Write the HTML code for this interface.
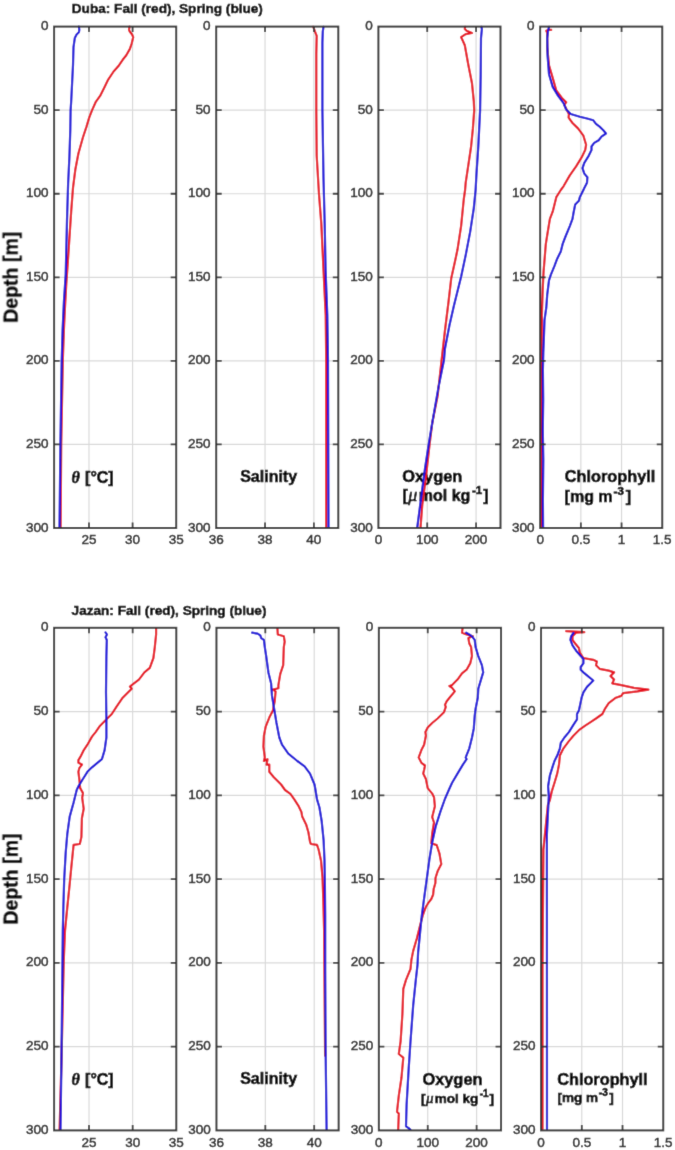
<!DOCTYPE html><html><head><meta charset="utf-8"><style>html,body{margin:0;padding:0;background:#fff;width:675px;height:1150px;overflow:hidden}svg{display:block}text{font-family:"Liberation Sans",sans-serif}</style></head><body>
<svg width="675" height="1150" viewBox="0 0 675 1150">
<defs><filter id="bl" x="0" y="0" width="675" height="1150" filterUnits="userSpaceOnUse"><feConvolveMatrix order="3" kernelMatrix="0.0100 0.0800 0.0100 0.0800 0.6400 0.0800 0.0100 0.0800 0.0100" divisor="1" edgeMode="none"/></filter></defs>
<g filter="url(#bl)">
<rect width="675" height="1150" fill="#fff"/>
<path d="M88.99 26.60V528.00M132.59 26.60V528.00M54.10 110.17H176.20M54.10 193.73H176.20M54.10 277.30H176.20M54.10 360.87H176.20M54.10 444.43H176.20" stroke="rgba(0,0,0,0.15)" stroke-width="1.2" fill="none"/>
<path d="M265.04 26.60V528.00M313.88 26.60V528.00M216.20 110.17H338.30M216.20 193.73H338.30M216.20 277.30H338.30M216.20 360.87H338.30M216.20 444.43H338.30" stroke="rgba(0,0,0,0.15)" stroke-width="1.2" fill="none"/>
<path d="M427.24 26.60V528.00M476.08 26.60V528.00M378.40 110.17H500.50M378.40 193.73H500.50M378.40 277.30H500.50M378.40 360.87H500.50M378.40 444.43H500.50" stroke="rgba(0,0,0,0.15)" stroke-width="1.2" fill="none"/>
<path d="M580.85 26.60V528.00M621.55 26.60V528.00M540.15 110.17H662.25M540.15 193.73H662.25M540.15 277.30H662.25M540.15 360.87H662.25M540.15 444.43H662.25" stroke="rgba(0,0,0,0.15)" stroke-width="1.2" fill="none"/>
<path d="M89.01 627.80V1130.40M132.66 627.80V1130.40M54.10 711.57H176.30M54.10 795.33H176.30M54.10 879.10H176.30M54.10 962.87H176.30M54.10 1046.63H176.30" stroke="rgba(0,0,0,0.15)" stroke-width="1.2" fill="none"/>
<path d="M265.33 627.80V1130.40M314.21 627.80V1130.40M216.45 711.57H338.65M216.45 795.33H338.65M216.45 879.10H338.65M216.45 962.87H338.65M216.45 1046.63H338.65" stroke="rgba(0,0,0,0.15)" stroke-width="1.2" fill="none"/>
<path d="M427.73 627.80V1130.40M476.61 627.80V1130.40M378.85 711.57H501.05M378.85 795.33H501.05M378.85 879.10H501.05M378.85 962.87H501.05M378.85 1046.63H501.05" stroke="rgba(0,0,0,0.15)" stroke-width="1.2" fill="none"/>
<path d="M581.78 627.80V1130.40M622.52 627.80V1130.40M541.05 711.57H663.25M541.05 795.33H663.25M541.05 879.10H663.25M541.05 962.87H663.25M541.05 1046.63H663.25" stroke="rgba(0,0,0,0.15)" stroke-width="1.2" fill="none"/>
<text x="71.4" y="482.9" font-size="16" font-weight="bold" text-anchor="start" fill="#000" stroke="#000" stroke-width="0.6" ><tspan font-family="Liberation Serif" font-style="italic" font-weight="bold">θ</tspan><tspan dx="0.9"> [°C]</tspan></text>
<text x="240.2" y="481.9" font-size="16" font-weight="bold" text-anchor="start" fill="#000" stroke="#000" stroke-width="0.6" >Salinity</text>
<text x="71.4" y="1085.1999999999998" font-size="16" font-weight="bold" text-anchor="start" fill="#000" stroke="#000" stroke-width="0.6" ><tspan font-family="Liberation Serif" font-style="italic" font-weight="bold">θ</tspan><tspan dx="0.9"> [°C]</tspan></text>
<text x="240.2" y="1084.3" font-size="16" font-weight="bold" text-anchor="start" fill="#000" stroke="#000" stroke-width="0.6" >Salinity</text>
<text x="402.2" y="481.9" font-size="16.4" font-weight="bold" text-anchor="start" fill="#000" stroke="#000" stroke-width="0.6" >Oxygen</text>
<text x="402.4" y="500.9" font-size="16" font-weight="bold" text-anchor="start" fill="#000" stroke="#000" stroke-width="0.6" >[<tspan font-family="Liberation Serif" font-style="italic" font-weight="normal" font-size="18" dx="0.6">μ</tspan><tspan dx="1.4">mol kg</tspan><tspan dx="1.6" dy="-7" font-size="11.5">-1</tspan><tspan dx="1.2" dy="7">]</tspan></text>
<text x="564.8" y="481.9" font-size="16.3" font-weight="bold" text-anchor="start" fill="#000" stroke="#000" stroke-width="0.6" >Chlorophyll</text>
<text x="564.6" y="501.6" font-size="16" font-weight="bold" text-anchor="start" fill="#000" stroke="#000" stroke-width="0.6" >[mg m<tspan dx="1.0" dy="-7" font-size="11.5">-3</tspan><tspan dx="1.8" dy="7">]</tspan></text>
<text x="422.4" y="1084.8" font-size="16.4" font-weight="bold" text-anchor="start" fill="#000" stroke="#000" stroke-width="0.6" >Oxygen</text>
<text x="421.0" y="1102.9" font-size="13.5" font-weight="bold" text-anchor="start" fill="#000" stroke="#000" stroke-width="0.6" >[<tspan font-family="Liberation Serif" font-style="italic" font-weight="normal" font-size="15" dx="0.5">μ</tspan><tspan dx="1.2">mol kg</tspan><tspan dx="1.4" dy="-6" font-size="10">-1</tspan><tspan dx="1.0" dy="6">]</tspan></text>
<text x="557.2" y="1084.9" font-size="16.3" font-weight="bold" text-anchor="start" fill="#000" stroke="#000" stroke-width="0.6" >Chlorophyll</text>
<text x="557.4" y="1102.4" font-size="13.5" font-weight="bold" text-anchor="start" fill="#000" stroke="#000" stroke-width="0.6" >[mg m<tspan dx="0.9" dy="-6" font-size="10">-3</tspan><tspan dx="1.5" dy="6">]</tspan></text>
<path d="M129.5 26.6 L129.0 29.9 L129.9 31.7 L132.1 34.5 L133.2 37.2 L131.7 43.5 L129.9 48.9 L126.3 55.2 L122.7 59.8 L119.1 65.2 L113.6 71.5 L108.2 79.6 L104.6 86.9 L100.1 95.9 L95.6 102.2 L92.0 110.4 L89.2 117.6 L86.5 126.6 L82.9 137.5 L78.4 153.5 L75.3 169.8 L73.0 187.8 L71.2 211.3 L69.4 238.4 L67.6 265.5 L66.3 283.6 L64.8 310.7 L63.9 330.0 L62.8 361.0 L61.2 445.0 L60.6 528.0" stroke="#e60a1c" stroke-width="2.2" fill="none" stroke-linejoin="round" stroke-linecap="round"/>
<path d="M78.9 26.6 L79.3 29.9 L78.9 32.3 L76.6 34.5 L74.8 38.1 L73.5 47.1 L73.0 65.2 L72.1 83.3 L71.2 101.3 L70.6 110.4 L70.3 130.0 L69.4 157.1 L68.1 184.2 L67.0 220.4 L65.7 274.6 L63.9 301.7 L62.6 330.0 L61.7 361.0 L60.4 445.0 L59.5 528.0" stroke="#1208d8" stroke-width="2.2" fill="none" stroke-linejoin="round" stroke-linecap="round"/>
<path d="M313.3 26.8 L314.9 31.3 L316.7 35.8 L316.3 54.0 L316.3 110.5 L316.7 155.8 L319.0 194.2 L321.3 223.7 L323.5 270.0 L325.7 315.0 L326.2 360.5 L326.2 528.0" stroke="#e60a1c" stroke-width="2.2" fill="none" stroke-linejoin="round" stroke-linecap="round"/>
<path d="M323.5 26.8 L322.8 31.3 L322.4 42.6 L322.4 110.5 L323.5 178.4 L324.7 223.7 L325.6 270.0 L327.3 315.0 L328.0 360.5 L328.5 528.0" stroke="#1208d8" stroke-width="2.2" fill="none" stroke-linejoin="round" stroke-linecap="round"/>
<path d="M465.1 26.9 L464.8 29.0 L466.6 30.8 L472.0 33.0 L465.7 34.1 L461.1 37.2 L462.0 39.0 L464.8 45.3 L468.4 65.2 L472.0 83.3 L473.8 101.3 L474.2 110.4 L472.9 128.4 L471.1 146.5 L468.4 164.6 L465.7 182.7 L465.1 190.0 L463.8 199.0 L461.1 226.1 L457.5 249.6 L454.8 262.3 L451.2 278.6 L448.5 302.0 L444.9 331.0 L441.6 360.0 L437.6 396.1 L432.2 423.3 L429.5 445.0 L425.9 477.5 L422.3 504.6 L420.5 528.0" stroke="#e60a1c" stroke-width="2.2" fill="none" stroke-linejoin="round" stroke-linecap="round"/>
<path d="M481.4 26.9 L481.9 29.0 L481.0 38.1 L480.7 74.2 L480.1 110.4 L478.3 146.5 L476.5 173.6 L475.6 190.0 L473.8 208.1 L470.2 231.6 L465.7 255.1 L461.1 276.8 L453.9 305.7 L449.4 325.6 L444.9 349.0 L444.0 360.0 L438.5 387.1 L432.2 423.3 L428.6 445.0 L425.0 468.4 L421.4 495.5 L417.2 528.0" stroke="#1208d8" stroke-width="2.2" fill="none" stroke-linejoin="round" stroke-linecap="round"/>
<path d="M551.2 29.9 L548.1 29.9 L546.3 30.8 L547.2 32.7 L547.2 47.1 L549.0 65.2 L552.7 77.8 L556.3 90.5 L561.7 97.7 L566.2 102.2 L564.4 104.9 L567.1 110.4 L568.9 114.0 L568.6 117.6 L572.5 123.0 L578.0 128.4 L583.4 135.7 L586.1 144.7 L585.2 150.1 L581.6 157.4 L576.1 166.4 L569.8 175.4 L563.5 186.3 L560.8 190.0 L556.3 197.2 L552.7 211.7 L549.9 218.9 L547.2 235.2 L545.8 244.2 L543.6 271.3 L542.7 289.4 L541.8 316.5 L541.4 370.0 L541.2 528.0" stroke="#e60a1c" stroke-width="2.2" fill="none" stroke-linejoin="round" stroke-linecap="round"/>
<path d="M549.0 26.9 L548.1 30.8 L547.2 38.1 L547.6 56.1 L549.0 74.2 L552.7 86.9 L558.1 95.9 L563.5 103.1 L566.2 109.5 L570.7 114.0 L579.8 116.7 L587.0 118.5 L593.3 120.3 L596.0 123.9 L599.6 126.6 L603.3 130.2 L606.0 133.5 L601.5 136.6 L598.7 140.2 L594.2 142.9 L591.5 146.5 L591.5 150.1 L588.8 155.6 L584.3 162.8 L582.5 168.2 L584.3 173.6 L587.4 177.2 L587.0 182.7 L584.3 188.1 L583.4 190.0 L579.8 197.2 L578.9 200.8 L575.2 204.5 L573.4 213.5 L572.5 218.9 L569.8 226.1 L565.3 237.0 L562.6 244.2 L560.8 251.4 L557.2 258.7 L554.5 265.9 L550.8 274.9 L549.0 280.4 L547.2 294.8 L546.3 307.5 L544.5 320.1 L544.0 334.6 L543.3 352.7 L542.9 370.0 L543.2 400.0 L542.8 430.0 L543.3 460.0 L542.9 500.0 L543.1 528.0" stroke="#1208d8" stroke-width="2.2" fill="none" stroke-linejoin="round" stroke-linecap="round"/>
<path d="M156.1 628.1 L156.1 634.5 L154.8 647.1 L153.4 658.0 L149.8 667.9 L144.4 672.4 L138.9 679.6 L131.7 685.1 L129.9 686.5 L131.7 688.7 L122.7 697.7 L116.4 706.8 L111.8 714.0 L105.5 720.3 L100.1 725.7 L95.6 732.1 L92.0 736.6 L87.4 744.7 L83.8 750.1 L81.1 755.6 L78.4 760.1 L78.4 762.8 L82.0 764.6 L79.3 768.2 L78.4 771.8 L79.3 779.0 L80.2 788.1 L83.0 793.1 L82.2 797.8 L83.7 808.8 L81.9 818.2 L81.4 837.0 L79.8 844.0 L73.6 844.8 L72.8 852.6 L71.2 868.3 L69.7 883.9 L67.3 907.4 L65.0 930.9 L63.7 962.2 L61.8 1046.9 L59.6 1129.5" stroke="#e60a1c" stroke-width="2.2" fill="none" stroke-linejoin="round" stroke-linecap="round"/>
<path d="M105.5 632.3 L107.0 634.5 L105.5 637.2 L106.8 639.9 L106.4 656.1 L106.0 692.3 L106.4 719.4 L106.4 737.5 L104.6 750.1 L101.9 759.2 L97.4 762.8 L92.0 767.3 L87.4 771.8 L82.9 779.0 L78.4 786.3 L76.7 790.0 L73.6 802.5 L69.7 816.6 L67.3 833.8 L65.7 852.6 L64.2 879.2 L63.4 905.9 L62.8 930.9 L62.4 970.0 L61.6 1046.9 L60.5 1129.5" stroke="#1208d8" stroke-width="2.2" fill="none" stroke-linejoin="round" stroke-linecap="round"/>
<path d="M277.4 628.1 L277.8 634.5 L283.8 636.3 L284.7 641.7 L283.8 647.1 L283.2 665.2 L280.2 674.2 L278.4 685.1 L278.4 688.3 L272.9 689.6 L275.6 691.4 L274.7 701.3 L272.9 710.4 L269.3 717.6 L265.7 726.6 L263.9 735.7 L263.4 746.5 L264.8 757.4 L263.9 761.0 L267.5 759.2 L266.6 764.6 L269.3 764.6 L269.3 771.8 L273.8 777.2 L281.1 784.5 L285.0 790.0 L290.4 793.9 L294.3 799.4 L298.3 805.6 L301.4 811.9 L302.2 816.6 L306.1 824.4 L308.4 832.3 L310.0 841.6 L310.8 844.0 L317.0 844.8 L318.6 849.5 L321.0 860.4 L322.5 877.6 L323.3 899.5 L324.1 930.8 L324.4 970.0 L325.1 1055.7" stroke="#e60a1c" stroke-width="2.2" fill="none" stroke-linejoin="round" stroke-linecap="round"/>
<path d="M252.1 632.7 L257.6 633.6 L260.3 635.4 L261.2 638.1 L263.9 639.9 L264.8 647.1 L266.2 656.1 L268.4 672.4 L271.1 683.3 L272.0 695.9 L273.8 706.8 L276.5 723.0 L279.3 737.5 L282.0 744.7 L288.3 753.7 L297.3 761.0 L304.6 766.4 L310.0 773.6 L314.5 784.5 L315.5 790.0 L317.0 799.4 L319.4 807.2 L321.7 821.3 L323.6 840.1 L324.5 860.4 L324.9 883.9 L325.2 915.2 L325.2 970.0 L325.6 1049.7 L326.6 1130.0" stroke="#1208d8" stroke-width="2.2" fill="none" stroke-linejoin="round" stroke-linecap="round"/>
<path d="M462.6 628.1 L462.0 632.7 L466.6 634.5 L472.9 636.3 L468.4 638.1 L469.3 643.5 L471.1 647.1 L472.0 656.1 L470.2 663.4 L466.6 669.7 L462.0 673.3 L457.5 679.6 L452.1 685.1 L449.4 686.0 L452.1 687.8 L454.8 691.4 L450.3 696.8 L446.7 701.3 L444.9 704.9 L445.8 706.8 L444.0 712.2 L437.6 718.5 L432.2 723.0 L427.7 727.5 L425.4 732.1 L425.9 735.7 L424.1 744.7 L421.4 750.1 L418.7 757.4 L421.4 762.8 L425.0 765.5 L424.1 770.0 L423.2 773.6 L425.9 779.0 L427.7 788.1 L432.2 793.6 L434.0 797.2 L434.9 806.3 L432.2 817.1 L434.0 822.5 L432.2 833.4 L431.3 843.3 L436.7 845.1 L439.4 853.3 L441.3 864.1 L437.6 871.3 L435.5 878.0 L435.4 883.0 L433.7 888.9 L433.1 894.8 L431.3 899.0 L427.8 903.7 L426.0 906.7 L424.2 911.4 L422.7 915.6 L420.5 923.7 L416.9 938.2 L413.2 950.9 L411.4 959.9 L410.5 969.0 L406.0 979.9 L403.3 988.9 L402.4 1014.2 L400.6 1041.3 L398.8 1054.0 L403.3 1057.6 L401.5 1077.5 L398.8 1095.6 L397.0 1111.8 L398.8 1113.6 L398.2 1129.9" stroke="#e60a1c" stroke-width="2.2" fill="none" stroke-linejoin="round" stroke-linecap="round"/>
<path d="M466.2 632.7 L469.3 634.5 L472.0 636.3 L474.7 639.9 L475.6 647.1 L478.3 656.1 L481.9 665.2 L483.2 672.4 L481.0 679.6 L478.3 688.7 L477.8 697.7 L475.6 708.6 L474.7 715.8 L473.8 728.4 L472.0 737.5 L469.3 748.3 L465.7 757.4 L466.6 759.2 L462.9 764.6 L457.5 773.6 L452.1 782.7 L448.8 790.0 L444.9 799.0 L440.4 811.7 L435.8 826.1 L432.2 842.4 L429.5 858.7 L426.8 878.6 L424.1 898.4 L421.7 916.5 L419.9 934.6 L418.1 952.7 L417.5 965.0 L416.0 978.1 L413.2 1005.2 L410.5 1041.3 L408.7 1068.4 L406.6 1104.6 L406.0 1126.3 L408.7 1128.1 L410.5 1129.9" stroke="#1208d8" stroke-width="2.2" fill="none" stroke-linejoin="round" stroke-linecap="round"/>
<path d="M566.2 631.2 L584.3 632.2 L576.1 632.7 L572.5 636.3 L572.5 639.9 L575.2 643.5 L578.9 648.0 L579.8 652.5 L583.4 658.0 L593.3 659.8 L596.9 661.6 L596.0 665.2 L599.6 668.8 L608.7 670.6 L614.1 672.4 L610.5 676.0 L614.1 679.6 L612.3 683.3 L621.3 685.1 L634.0 687.8 L648.4 689.6 L637.6 691.4 L623.1 693.2 L621.3 695.9 L615.9 697.7 L608.7 703.1 L605.1 708.6 L602.4 714.0 L596.0 718.5 L590.6 722.1 L585.2 725.7 L578.9 730.2 L573.4 735.7 L568.9 741.1 L563.5 748.3 L559.9 755.6 L559.0 764.6 L557.2 773.6 L554.5 782.7 L551.7 791.7 L549.9 800.0 L547.9 804.8 L543.4 849.3 L542.5 967.8 L542.5 1129.0" stroke="#e60a1c" stroke-width="2.2" fill="none" stroke-linejoin="round" stroke-linecap="round"/>
<path d="M573.4 633.0 L571.1 636.3 L570.4 639.9 L572.5 645.3 L576.1 650.7 L580.7 656.1 L583.4 658.9 L583.4 663.4 L580.7 667.0 L580.7 669.7 L583.4 672.4 L588.8 676.9 L593.3 680.5 L590.6 683.3 L587.0 686.9 L583.4 692.3 L581.6 697.7 L580.1 704.9 L578.9 710.4 L577.0 714.0 L577.0 719.4 L573.4 724.8 L568.9 732.1 L564.4 737.5 L560.8 742.9 L559.9 748.3 L557.2 755.6 L554.5 761.0 L552.7 766.4 L549.9 775.4 L548.1 786.3 L548.8 796.0 L546.9 834.4 L547.0 1129.0" stroke="#1208d8" stroke-width="2.2" fill="none" stroke-linejoin="round" stroke-linecap="round"/>
<rect x="54.10" y="26.60" width="122.10" height="501.40" fill="none" stroke="#363636" stroke-width="2"/>
<path d="M88.99 528.00v-5.5M88.99 26.60v5.5M132.59 528.00v-5.5M132.59 26.60v5.5M54.10 110.17h5.5M176.20 110.17h-5.5M54.10 193.73h5.5M176.20 193.73h-5.5M54.10 277.30h5.5M176.20 277.30h-5.5M54.10 360.87h5.5M176.20 360.87h-5.5M54.10 444.43h5.5M176.20 444.43h-5.5" stroke="#363636" stroke-width="1.8" fill="none"/>
<text x="88.99" y="544.20" font-size="13.5" text-anchor="middle" fill="#222" stroke="#222" stroke-width="0.45">25</text>
<text x="132.59" y="544.20" font-size="13.5" text-anchor="middle" fill="#222" stroke="#222" stroke-width="0.45">30</text>
<text x="176.20" y="544.20" font-size="13.5" text-anchor="middle" fill="#222" stroke="#222" stroke-width="0.45">35</text>
<text x="48.50" y="30.20" font-size="13.5" text-anchor="end" fill="#222" stroke="#222" stroke-width="0.45">0</text>
<text x="48.50" y="113.77" font-size="13.5" text-anchor="end" fill="#222" stroke="#222" stroke-width="0.45">50</text>
<text x="48.50" y="197.33" font-size="13.5" text-anchor="end" fill="#222" stroke="#222" stroke-width="0.45">100</text>
<text x="48.50" y="280.90" font-size="13.5" text-anchor="end" fill="#222" stroke="#222" stroke-width="0.45">150</text>
<text x="48.50" y="364.47" font-size="13.5" text-anchor="end" fill="#222" stroke="#222" stroke-width="0.45">200</text>
<text x="48.50" y="448.03" font-size="13.5" text-anchor="end" fill="#222" stroke="#222" stroke-width="0.45">250</text>
<text x="48.50" y="531.60" font-size="13.5" text-anchor="end" fill="#222" stroke="#222" stroke-width="0.45">300</text>
<rect x="216.20" y="26.60" width="122.10" height="501.40" fill="none" stroke="#363636" stroke-width="2"/>
<path d="M265.04 528.00v-5.5M265.04 26.60v5.5M313.88 528.00v-5.5M313.88 26.60v5.5M216.20 110.17h5.5M338.30 110.17h-5.5M216.20 193.73h5.5M338.30 193.73h-5.5M216.20 277.30h5.5M338.30 277.30h-5.5M216.20 360.87h5.5M338.30 360.87h-5.5M216.20 444.43h5.5M338.30 444.43h-5.5" stroke="#363636" stroke-width="1.8" fill="none"/>
<text x="216.20" y="544.20" font-size="13.5" text-anchor="middle" fill="#222" stroke="#222" stroke-width="0.45">36</text>
<text x="265.04" y="544.20" font-size="13.5" text-anchor="middle" fill="#222" stroke="#222" stroke-width="0.45">38</text>
<text x="313.88" y="544.20" font-size="13.5" text-anchor="middle" fill="#222" stroke="#222" stroke-width="0.45">40</text>
<text x="210.60" y="30.20" font-size="13.5" text-anchor="end" fill="#222" stroke="#222" stroke-width="0.45">0</text>
<text x="210.60" y="113.77" font-size="13.5" text-anchor="end" fill="#222" stroke="#222" stroke-width="0.45">50</text>
<text x="210.60" y="197.33" font-size="13.5" text-anchor="end" fill="#222" stroke="#222" stroke-width="0.45">100</text>
<text x="210.60" y="280.90" font-size="13.5" text-anchor="end" fill="#222" stroke="#222" stroke-width="0.45">150</text>
<text x="210.60" y="364.47" font-size="13.5" text-anchor="end" fill="#222" stroke="#222" stroke-width="0.45">200</text>
<text x="210.60" y="448.03" font-size="13.5" text-anchor="end" fill="#222" stroke="#222" stroke-width="0.45">250</text>
<text x="210.60" y="531.60" font-size="13.5" text-anchor="end" fill="#222" stroke="#222" stroke-width="0.45">300</text>
<rect x="378.40" y="26.60" width="122.10" height="501.40" fill="none" stroke="#363636" stroke-width="2"/>
<path d="M427.24 528.00v-5.5M427.24 26.60v5.5M476.08 528.00v-5.5M476.08 26.60v5.5M378.40 110.17h5.5M500.50 110.17h-5.5M378.40 193.73h5.5M500.50 193.73h-5.5M378.40 277.30h5.5M500.50 277.30h-5.5M378.40 360.87h5.5M500.50 360.87h-5.5M378.40 444.43h5.5M500.50 444.43h-5.5" stroke="#363636" stroke-width="1.8" fill="none"/>
<text x="378.40" y="544.20" font-size="13.5" text-anchor="middle" fill="#222" stroke="#222" stroke-width="0.45">0</text>
<text x="427.24" y="544.20" font-size="13.5" text-anchor="middle" fill="#222" stroke="#222" stroke-width="0.45">100</text>
<text x="476.08" y="544.20" font-size="13.5" text-anchor="middle" fill="#222" stroke="#222" stroke-width="0.45">200</text>
<text x="372.80" y="30.20" font-size="13.5" text-anchor="end" fill="#222" stroke="#222" stroke-width="0.45">0</text>
<text x="372.80" y="113.77" font-size="13.5" text-anchor="end" fill="#222" stroke="#222" stroke-width="0.45">50</text>
<text x="372.80" y="197.33" font-size="13.5" text-anchor="end" fill="#222" stroke="#222" stroke-width="0.45">100</text>
<text x="372.80" y="280.90" font-size="13.5" text-anchor="end" fill="#222" stroke="#222" stroke-width="0.45">150</text>
<text x="372.80" y="364.47" font-size="13.5" text-anchor="end" fill="#222" stroke="#222" stroke-width="0.45">200</text>
<text x="372.80" y="448.03" font-size="13.5" text-anchor="end" fill="#222" stroke="#222" stroke-width="0.45">250</text>
<text x="372.80" y="531.60" font-size="13.5" text-anchor="end" fill="#222" stroke="#222" stroke-width="0.45">300</text>
<rect x="540.15" y="26.60" width="122.10" height="501.40" fill="none" stroke="#363636" stroke-width="2"/>
<path d="M580.85 528.00v-5.5M580.85 26.60v5.5M621.55 528.00v-5.5M621.55 26.60v5.5M540.15 110.17h5.5M662.25 110.17h-5.5M540.15 193.73h5.5M662.25 193.73h-5.5M540.15 277.30h5.5M662.25 277.30h-5.5M540.15 360.87h5.5M662.25 360.87h-5.5M540.15 444.43h5.5M662.25 444.43h-5.5" stroke="#363636" stroke-width="1.8" fill="none"/>
<text x="540.15" y="544.20" font-size="13.5" text-anchor="middle" fill="#222" stroke="#222" stroke-width="0.45">0</text>
<text x="580.85" y="544.20" font-size="13.5" text-anchor="middle" fill="#222" stroke="#222" stroke-width="0.45">0.5</text>
<text x="621.55" y="544.20" font-size="13.5" text-anchor="middle" fill="#222" stroke="#222" stroke-width="0.45">1</text>
<text x="662.25" y="544.20" font-size="13.5" text-anchor="middle" fill="#222" stroke="#222" stroke-width="0.45">1.5</text>
<text x="534.55" y="30.20" font-size="13.5" text-anchor="end" fill="#222" stroke="#222" stroke-width="0.45">0</text>
<text x="534.55" y="113.77" font-size="13.5" text-anchor="end" fill="#222" stroke="#222" stroke-width="0.45">50</text>
<text x="534.55" y="197.33" font-size="13.5" text-anchor="end" fill="#222" stroke="#222" stroke-width="0.45">100</text>
<text x="534.55" y="280.90" font-size="13.5" text-anchor="end" fill="#222" stroke="#222" stroke-width="0.45">150</text>
<text x="534.55" y="364.47" font-size="13.5" text-anchor="end" fill="#222" stroke="#222" stroke-width="0.45">200</text>
<text x="534.55" y="448.03" font-size="13.5" text-anchor="end" fill="#222" stroke="#222" stroke-width="0.45">250</text>
<text x="534.55" y="531.60" font-size="13.5" text-anchor="end" fill="#222" stroke="#222" stroke-width="0.45">300</text>
<text x="0" y="0" font-size="19.5" font-weight="bold" text-anchor="middle" fill="#000" stroke="#000" stroke-width="0.4" transform="translate(17.6 277.30) rotate(-90)">Depth [m]</text>
<text x="71.8" y="13.2" font-size="13.6" font-weight="bold" fill="#000" stroke="#000" stroke-width="0.5">Duba: Fall (red), Spring (blue)</text>
<rect x="54.10" y="627.80" width="122.20" height="502.60" fill="none" stroke="#363636" stroke-width="2"/>
<path d="M89.01 1130.40v-5.5M89.01 627.80v5.5M132.66 1130.40v-5.5M132.66 627.80v5.5M54.10 711.57h5.5M176.30 711.57h-5.5M54.10 795.33h5.5M176.30 795.33h-5.5M54.10 879.10h5.5M176.30 879.10h-5.5M54.10 962.87h5.5M176.30 962.87h-5.5M54.10 1046.63h5.5M176.30 1046.63h-5.5" stroke="#363636" stroke-width="1.8" fill="none"/>
<text x="89.01" y="1146.60" font-size="13.5" text-anchor="middle" fill="#222" stroke="#222" stroke-width="0.45">25</text>
<text x="132.66" y="1146.60" font-size="13.5" text-anchor="middle" fill="#222" stroke="#222" stroke-width="0.45">30</text>
<text x="176.30" y="1146.60" font-size="13.5" text-anchor="middle" fill="#222" stroke="#222" stroke-width="0.45">35</text>
<text x="48.50" y="631.40" font-size="13.5" text-anchor="end" fill="#222" stroke="#222" stroke-width="0.45">0</text>
<text x="48.50" y="715.17" font-size="13.5" text-anchor="end" fill="#222" stroke="#222" stroke-width="0.45">50</text>
<text x="48.50" y="798.93" font-size="13.5" text-anchor="end" fill="#222" stroke="#222" stroke-width="0.45">100</text>
<text x="48.50" y="882.70" font-size="13.5" text-anchor="end" fill="#222" stroke="#222" stroke-width="0.45">150</text>
<text x="48.50" y="966.47" font-size="13.5" text-anchor="end" fill="#222" stroke="#222" stroke-width="0.45">200</text>
<text x="48.50" y="1050.23" font-size="13.5" text-anchor="end" fill="#222" stroke="#222" stroke-width="0.45">250</text>
<text x="48.50" y="1134.00" font-size="13.5" text-anchor="end" fill="#222" stroke="#222" stroke-width="0.45">300</text>
<rect x="216.45" y="627.80" width="122.20" height="502.60" fill="none" stroke="#363636" stroke-width="2"/>
<path d="M265.33 1130.40v-5.5M265.33 627.80v5.5M314.21 1130.40v-5.5M314.21 627.80v5.5M216.45 711.57h5.5M338.65 711.57h-5.5M216.45 795.33h5.5M338.65 795.33h-5.5M216.45 879.10h5.5M338.65 879.10h-5.5M216.45 962.87h5.5M338.65 962.87h-5.5M216.45 1046.63h5.5M338.65 1046.63h-5.5" stroke="#363636" stroke-width="1.8" fill="none"/>
<text x="216.45" y="1146.60" font-size="13.5" text-anchor="middle" fill="#222" stroke="#222" stroke-width="0.45">36</text>
<text x="265.33" y="1146.60" font-size="13.5" text-anchor="middle" fill="#222" stroke="#222" stroke-width="0.45">38</text>
<text x="314.21" y="1146.60" font-size="13.5" text-anchor="middle" fill="#222" stroke="#222" stroke-width="0.45">40</text>
<text x="210.85" y="631.40" font-size="13.5" text-anchor="end" fill="#222" stroke="#222" stroke-width="0.45">0</text>
<text x="210.85" y="715.17" font-size="13.5" text-anchor="end" fill="#222" stroke="#222" stroke-width="0.45">50</text>
<text x="210.85" y="798.93" font-size="13.5" text-anchor="end" fill="#222" stroke="#222" stroke-width="0.45">100</text>
<text x="210.85" y="882.70" font-size="13.5" text-anchor="end" fill="#222" stroke="#222" stroke-width="0.45">150</text>
<text x="210.85" y="966.47" font-size="13.5" text-anchor="end" fill="#222" stroke="#222" stroke-width="0.45">200</text>
<text x="210.85" y="1050.23" font-size="13.5" text-anchor="end" fill="#222" stroke="#222" stroke-width="0.45">250</text>
<text x="210.85" y="1134.00" font-size="13.5" text-anchor="end" fill="#222" stroke="#222" stroke-width="0.45">300</text>
<rect x="378.85" y="627.80" width="122.20" height="502.60" fill="none" stroke="#363636" stroke-width="2"/>
<path d="M427.73 1130.40v-5.5M427.73 627.80v5.5M476.61 1130.40v-5.5M476.61 627.80v5.5M378.85 711.57h5.5M501.05 711.57h-5.5M378.85 795.33h5.5M501.05 795.33h-5.5M378.85 879.10h5.5M501.05 879.10h-5.5M378.85 962.87h5.5M501.05 962.87h-5.5M378.85 1046.63h5.5M501.05 1046.63h-5.5" stroke="#363636" stroke-width="1.8" fill="none"/>
<text x="378.85" y="1146.60" font-size="13.5" text-anchor="middle" fill="#222" stroke="#222" stroke-width="0.45">0</text>
<text x="427.73" y="1146.60" font-size="13.5" text-anchor="middle" fill="#222" stroke="#222" stroke-width="0.45">100</text>
<text x="476.61" y="1146.60" font-size="13.5" text-anchor="middle" fill="#222" stroke="#222" stroke-width="0.45">200</text>
<text x="373.25" y="631.40" font-size="13.5" text-anchor="end" fill="#222" stroke="#222" stroke-width="0.45">0</text>
<text x="373.25" y="715.17" font-size="13.5" text-anchor="end" fill="#222" stroke="#222" stroke-width="0.45">50</text>
<text x="373.25" y="798.93" font-size="13.5" text-anchor="end" fill="#222" stroke="#222" stroke-width="0.45">100</text>
<text x="373.25" y="882.70" font-size="13.5" text-anchor="end" fill="#222" stroke="#222" stroke-width="0.45">150</text>
<text x="373.25" y="966.47" font-size="13.5" text-anchor="end" fill="#222" stroke="#222" stroke-width="0.45">200</text>
<text x="373.25" y="1050.23" font-size="13.5" text-anchor="end" fill="#222" stroke="#222" stroke-width="0.45">250</text>
<text x="373.25" y="1134.00" font-size="13.5" text-anchor="end" fill="#222" stroke="#222" stroke-width="0.45">300</text>
<rect x="541.05" y="627.80" width="122.20" height="502.60" fill="none" stroke="#363636" stroke-width="2"/>
<path d="M581.78 1130.40v-5.5M581.78 627.80v5.5M622.52 1130.40v-5.5M622.52 627.80v5.5M541.05 711.57h5.5M663.25 711.57h-5.5M541.05 795.33h5.5M663.25 795.33h-5.5M541.05 879.10h5.5M663.25 879.10h-5.5M541.05 962.87h5.5M663.25 962.87h-5.5M541.05 1046.63h5.5M663.25 1046.63h-5.5" stroke="#363636" stroke-width="1.8" fill="none"/>
<text x="541.05" y="1146.60" font-size="13.5" text-anchor="middle" fill="#222" stroke="#222" stroke-width="0.45">0</text>
<text x="581.78" y="1146.60" font-size="13.5" text-anchor="middle" fill="#222" stroke="#222" stroke-width="0.45">0.5</text>
<text x="622.52" y="1146.60" font-size="13.5" text-anchor="middle" fill="#222" stroke="#222" stroke-width="0.45">1</text>
<text x="663.25" y="1146.60" font-size="13.5" text-anchor="middle" fill="#222" stroke="#222" stroke-width="0.45">1.5</text>
<text x="535.45" y="631.40" font-size="13.5" text-anchor="end" fill="#222" stroke="#222" stroke-width="0.45">0</text>
<text x="535.45" y="715.17" font-size="13.5" text-anchor="end" fill="#222" stroke="#222" stroke-width="0.45">50</text>
<text x="535.45" y="798.93" font-size="13.5" text-anchor="end" fill="#222" stroke="#222" stroke-width="0.45">100</text>
<text x="535.45" y="882.70" font-size="13.5" text-anchor="end" fill="#222" stroke="#222" stroke-width="0.45">150</text>
<text x="535.45" y="966.47" font-size="13.5" text-anchor="end" fill="#222" stroke="#222" stroke-width="0.45">200</text>
<text x="535.45" y="1050.23" font-size="13.5" text-anchor="end" fill="#222" stroke="#222" stroke-width="0.45">250</text>
<text x="535.45" y="1134.00" font-size="13.5" text-anchor="end" fill="#222" stroke="#222" stroke-width="0.45">300</text>
<text x="0" y="0" font-size="19.5" font-weight="bold" text-anchor="middle" fill="#000" stroke="#000" stroke-width="0.4" transform="translate(17.6 879.10) rotate(-90)">Depth [m]</text>
<text x="71.6" y="614.8" font-size="13.6" font-weight="bold" fill="#000" stroke="#000" stroke-width="0.5">Jazan: Fall (red), Spring (blue)</text>
</g></svg></body></html>
